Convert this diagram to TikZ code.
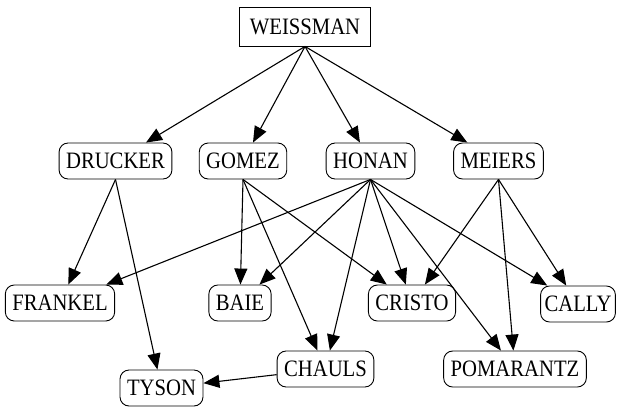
\documentclass[tikz,border=0pt]{standalone}
\usepackage{fontspec}
\setmainfont[FakeStretch=0.88]{Liberation Serif}
\usetikzlibrary{arrows.meta}

\begin{document}
\begin{tikzpicture}[x=1pt, y=-1pt,
                  box/.style={draw, font=\fontsize{23.5}{26}\selectfont, inner xsep=7pt,
                              inner ysep=0pt, minimum height=36pt, line width=0.9pt},
                  person/.style={box, rounded corners=9pt},
                  head/.style={box, inner xsep=10pt, minimum height=39pt},
                  arr/.style={-{Triangle[length=16pt, width=13pt]}, line width=1.1pt},
            ]
            \useasboundingbox (0,0) rectangle (618,408);

            \node[head] (weissman) at (305,26.5) {WEISSMAN};

            \node[person] (drucker) at (115.5,161) {DRUCKER};
            \node[person] (gomez) at (243,161) {GOMEZ};
            \node[person] (honan) at (370.5,161) {HONAN};
            \node[person] (meiers) at (498.5,161) {MEIERS};

            \node[person] (frankel) at (60,303) {FRANKEL};
            \node[person] (baie) at (240,303) {BAIE};
            \node[person] (cristo) at (412,303) {CRISTO};
            \node[person, inner xsep=4pt] (cally) at (578,304) {CALLY};

            \node[person] (chauls) at (325.5,369) {CHAULS};
            \node[person] (pomarantz) at (515,369) {POMARANTZ};
            \node[person] (tyson) at (161.5,388) {TYSON};

            \draw[arr] (weissman.south) -- (drucker);
            \draw[arr] (weissman.south) -- (gomez);
            \draw[arr] (weissman.south) -- (honan);
            \draw[arr] (weissman.south) -- (meiers);

            \draw[arr] (drucker.south) -- (frankel);
            \draw[arr] (drucker.south) -- (tyson);

            \draw[arr] (gomez.south) -- (baie);
            \draw[arr] (gomez.south) -- (cristo);
            \draw[arr] (gomez.south) -- (chauls);

            \draw[arr] (honan.south) -- (frankel);
            \draw[arr] (honan.south) -- (baie);
            \draw[arr] (honan.south) -- (chauls);
            \draw[arr] (honan.south) -- (cristo);
            \draw[arr] (honan.south) -- (pomarantz);
            \draw[arr] (honan.south) -- (cally);

            \draw[arr] (meiers.south) -- (cristo);
            \draw[arr] (meiers.south) -- (pomarantz);
            \draw[arr] (meiers.south) -- (cally);

            \draw[arr] (chauls) -- (tyson);

      \end{tikzpicture}
\end{document}
